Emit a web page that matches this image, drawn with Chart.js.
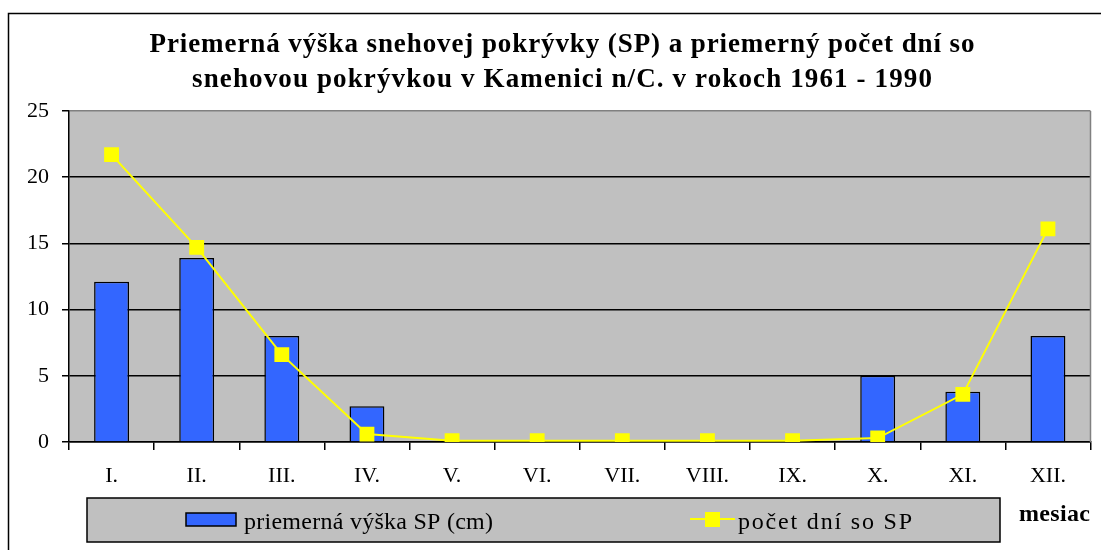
<!DOCTYPE html>
<html>
<head>
<meta charset="utf-8">
<script src="https://cdn.jsdelivr.net/npm/chart.js@4.4.1/dist/chart.umd.min.js"></script>
<style>
  html, body { margin: 0; padding: 0; background: #fff; }
</style>
</head>
<body>
<canvas id="chart" width="1101" height="550"></canvas>
<script>
// data
const months = ['I.', 'II.', 'III.', 'IV.', 'V.', 'VI.', 'VII.', 'VIII.', 'IX.', 'X.', 'XI.', 'XII.'];
const snowDepth = [12.1, 13.9, 8.0, 2.7, 0, 0, 0, 0, 0, 5.0, 3.8, 8.0];
const snowDays = [21.7, 14.7, 6.6, 0.6, 0.1, 0.1, 0.1, 0.1, 0.1, 0.3, 3.6, 16.1];
const yMin = 0, yMax = 25, yStep = 5;

const titleLines = [
  'Priemerná výška snehovej pokrývky (SP) a priemerný počet dní so',
  'snehovou pokrývkou v Kamenici n/C. v rokoch 1961 - 1990'
];
const depthLabel = 'priemerná výška SP (cm)';
const daysLabel = 'počet dní so SP';
const axisLabel = 'mesiac';

const SERIF = "'Liberation Serif', 'Times New Roman', serif";

// draw text stretched to a given width (Excel-like wide spacing)
function fitText(ctx, text, x, y, width, align) {
  ctx.letterSpacing = '0px';
  const w = ctx.measureText(text).width;
  const sp = (width - w) / Math.max(1, text.length - 1);
  ctx.letterSpacing = sp + 'px';
  ctx.textAlign = 'left';
  const start = align === 'center' ? x - width / 2 : x;
  ctx.fillText(text, start, y);
  ctx.letterSpacing = '0px';
}

const decorations = {
  id: 'decorations',
  beforeDraw(chart) {
    const { ctx, chartArea: a } = chart;
    ctx.save();
    ctx.fillStyle = '#c0c0c0';
    ctx.fillRect(a.left, a.top, a.right - a.left, a.bottom - a.top);
    ctx.restore();
  },
  afterDraw(chart) {
    const { ctx, chartArea: a } = chart;
    ctx.save();
    // right edge of plot
    ctx.strokeStyle = '#808080';
    ctx.lineWidth = 1.5;
    ctx.beginPath();
    ctx.moveTo(a.right, a.top);
    ctx.lineTo(a.right, a.bottom);
    ctx.stroke();

    // outer frame
    ctx.strokeStyle = '#000';
    ctx.lineWidth = 1.5;
    ctx.beginPath();
    ctx.moveTo(8.5, 550);
    ctx.lineTo(8.5, 13.5);
    ctx.lineTo(1101, 13.5);
    ctx.stroke();

    // title
    ctx.fillStyle = '#000';
    ctx.textBaseline = 'alphabetic';
    ctx.font = 'bold 27px ' + SERIF;
    fitText(ctx, titleLines[0], 562, 52, 825, 'center');
    fitText(ctx, titleLines[1], 562, 87, 740, 'center');

    // legend box
    ctx.fillStyle = '#c0c0c0';
    ctx.fillRect(87, 498, 913, 44);
    ctx.strokeStyle = '#000';
    ctx.lineWidth = 1.5;
    ctx.strokeRect(87, 498, 913, 44);

    const barDs = chart.data.datasets[1];
    ctx.fillStyle = barDs.backgroundColor;
    ctx.fillRect(186, 513, 50, 13);
    ctx.strokeStyle = '#000';
    ctx.lineWidth = 1.5;
    ctx.strokeRect(186, 513, 50, 13);

    ctx.fillStyle = '#000';
    ctx.font = '24px ' + SERIF;
    fitText(ctx, depthLabel, 244, 529, 249, 'left');

    ctx.strokeStyle = '#ffff00';
    ctx.lineWidth = 2;
    ctx.beginPath();
    ctx.moveTo(690, 519);
    ctx.lineTo(735, 519);
    ctx.stroke();
    ctx.fillStyle = '#ffff00';
    ctx.fillRect(705, 512, 15, 15);

    ctx.fillStyle = '#000';
    fitText(ctx, daysLabel, 738, 529, 174, 'left');

    ctx.font = 'bold 24px ' + SERIF;
    fitText(ctx, axisLabel, 1019, 521, 71, 'left');
    ctx.restore();
  }
};

const tickFont = { family: SERIF, size: 22 };

new Chart(document.getElementById('chart'), {
  type: 'bar',
  data: {
    labels: months,
    datasets: [
      {
        type: 'line',
        label: daysLabel,
        data: snowDays,
        borderColor: '#ffff00',
        backgroundColor: '#ffff00',
        borderWidth: 2,
        tension: 0,
        pointStyle: 'rect',
        pointRadius: 10.5,
        pointBorderWidth: 0,
        pointBackgroundColor: '#ffff00',
        order: 0
      },
      {
        type: 'bar',
        label: depthLabel,
        data: snowDepth,
        backgroundColor: '#3366ff',
        borderColor: '#000',
        borderWidth: 1.5,
        borderSkipped: 'start',
        barPercentage: 0.41,
        categoryPercentage: 1,
        order: 1
      }
    ]
  },
  options: {
    responsive: false,
    animation: false,
    layout: { padding: { left: 0, top: 111, right: 5, bottom: 0 } },
    plugins: {
      legend: { display: false },
      title: { display: false },
      tooltip: { enabled: false }
    },
    scales: {
      x: {
        offset: true,
        grid: {
          offset: true,
          drawOnChartArea: false,
          drawTicks: true,
          tickLength: 8,
          color: '#000',
          lineWidth: 1.5
        },
        border: { color: '#000', width: 1.5 },
        ticks: { color: '#000', font: tickFont, padding: 13, maxRotation: 0, autoSkip: false },
        afterFit: s => { s.height = 108; }
      },
      y: {
        min: yMin,
        max: yMax,
        ticks: { stepSize: yStep, color: '#000', font: tickFont, padding: 13 },
        grid: {
          color: c => c.tick && c.tick.value === yMax ? '#808080' : '#000',
          tickColor: '#000',
          lineWidth: 1.5,
          tickLength: 7
        },
        border: { color: '#000', width: 1.5 },
        afterFit: s => { s.width = 69; }
      }
    }
  },
  plugins: [decorations]
});
</script>
</body>
</html>
